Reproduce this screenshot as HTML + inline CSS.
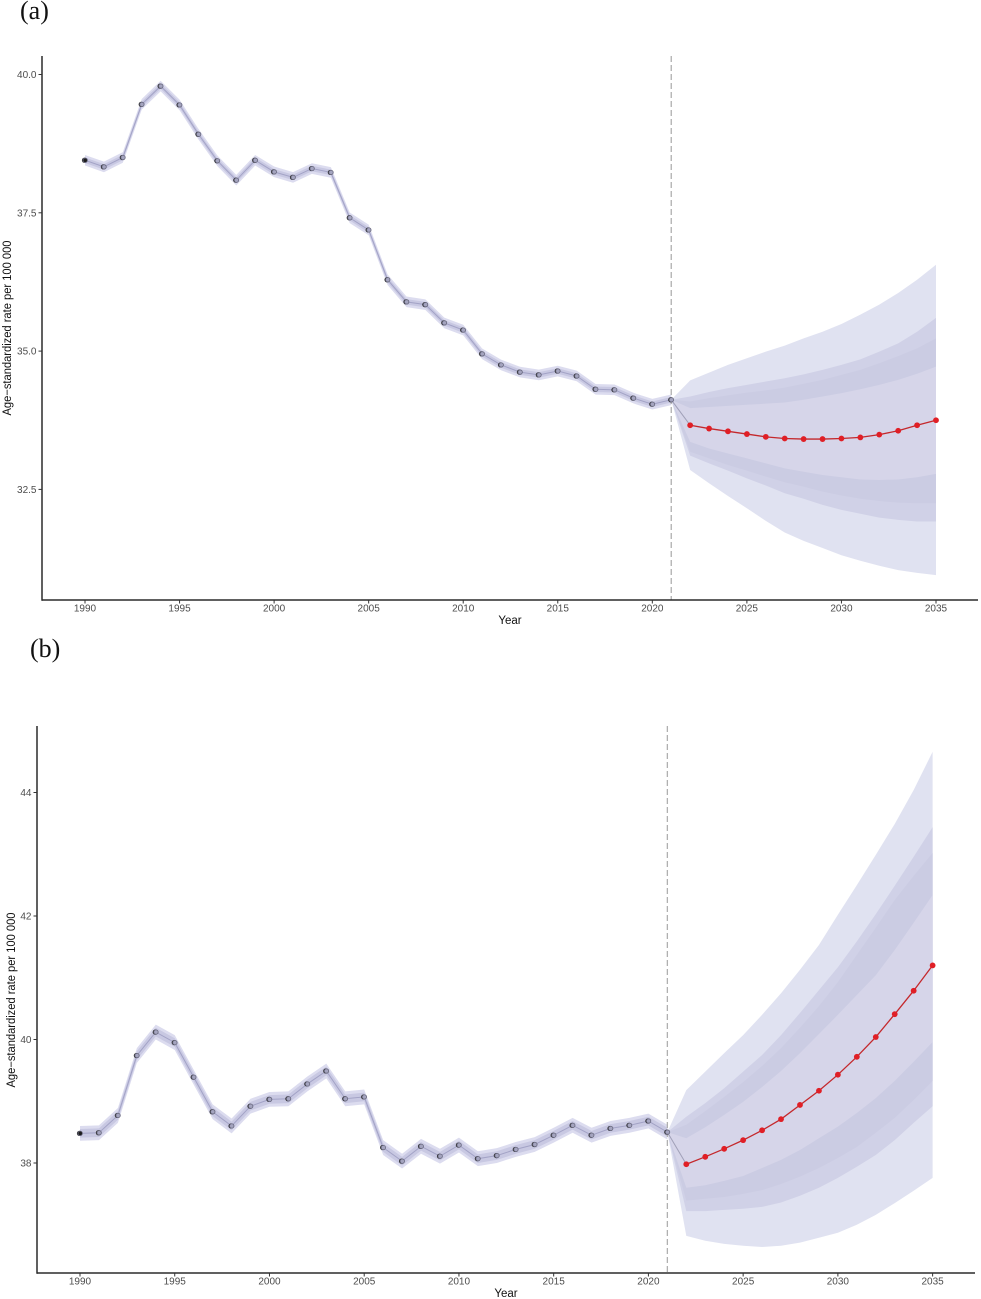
<!DOCTYPE html>
<html lang="en">
<head>
<meta charset="utf-8">
<title>Age-standardized rate forecast panels</title>
<style>
html,body{margin:0;padding:0;background:#fff;}
#chart{display:block;width:981px;height:1299px;}
text{font-family:"Liberation Sans",sans-serif;}
</style>
</head>
<body>
<svg id="chart" xmlns="http://www.w3.org/2000/svg" width="981" height="1299" viewBox="0 0 981 1299"></svg>
<script>
const histYears = [1990,1991,1992,1993,1994,1995,1996,1997,1998,1999,2000,2001,2002,2003,2004,2005,2006,2007,2008,2009,2010,2011,2012,2013,2014,2015,2016,2017,2018,2019,2020,2021];
const forecastYears = [2022,2023,2024,2025,2026,2027,2028,2029,2030,2031,2032,2033,2034,2035];
const xTickYears = [1990,1995,2000,2005,2010,2015,2020,2025,2030,2035];

const aYTicks = [40.0,37.5,35.0,32.5];
const aYTickLabels = ["40.0","37.5","35.0","32.5"];
const aHist = [38.45,38.33,38.50,39.46,39.79,39.45,38.92,38.44,38.09,38.45,38.24,38.14,38.30,38.23,37.41,37.19,36.29,35.89,35.84,35.51,35.38,34.95,34.75,34.62,34.57,34.64,34.55,34.31,34.30,34.15,34.04,34.12];
const aForecast = [33.66,33.60,33.55,33.50,33.45,33.42,33.41,33.41,33.42,33.44,33.49,33.56,33.66,33.75];
const aOuterUpper = [34.47,34.61,34.75,34.87,34.99,35.10,35.23,35.35,35.49,35.66,35.84,36.05,36.29,36.56];
const aEdgeAUpper = [34.18,34.26,34.33,34.39,34.45,34.51,34.58,34.66,34.75,34.85,34.99,35.14,35.35,35.60];
const aEdgeBUpper = [34.09,34.15,34.20,34.25,34.29,34.34,34.41,34.48,34.57,34.66,34.78,34.91,35.05,35.23];
const aEdgeCUpper = [33.97,33.99,34.01,34.03,34.05,34.07,34.12,34.18,34.24,34.31,34.39,34.48,34.59,34.72];
const aEdgeCLower = [33.36,33.24,33.15,33.06,32.97,32.88,32.82,32.76,32.72,32.68,32.67,32.68,32.72,32.78];
const aEdgeBLower = [33.18,33.06,32.94,32.84,32.73,32.63,32.55,32.46,32.39,32.33,32.29,32.26,32.25,32.25];
const aEdgeALower = [33.11,32.97,32.84,32.70,32.57,32.43,32.33,32.22,32.13,32.06,31.99,31.95,31.92,31.92];
const aOuterLower = [32.85,32.61,32.38,32.16,31.93,31.72,31.57,31.44,31.31,31.21,31.12,31.04,30.99,30.95];

const bYTicks = [44,42,40,38];
const bYTickLabels = ["44","42","40","38"];
const bHist = [38.48,38.49,38.77,39.74,40.12,39.95,39.39,38.83,38.60,38.92,39.03,39.04,39.28,39.49,39.04,39.07,38.25,38.03,38.27,38.11,38.29,38.07,38.12,38.22,38.30,38.45,38.61,38.45,38.56,38.61,38.68,38.50];
const bForecast = [37.98,38.10,38.23,38.37,38.53,38.71,38.94,39.17,39.43,39.72,40.04,40.41,40.79,41.20];
const bOuterUpper = [39.18,39.48,39.78,40.07,40.40,40.75,41.13,41.53,42.02,42.50,42.99,43.49,44.04,44.66];
const bEdgeAUpper = [38.75,38.97,39.21,39.48,39.75,40.07,40.43,40.80,41.17,41.59,42.03,42.49,42.96,43.44];
const bEdgeBUpper = [38.62,38.84,39.07,39.31,39.57,39.86,40.19,40.54,40.93,41.37,41.81,42.26,42.65,43.02];
const bEdgeCUpper = [38.40,38.58,38.78,38.99,39.23,39.49,39.78,40.09,40.40,40.72,41.04,41.45,41.89,42.34];
const bEdgeCLower = [37.60,37.64,37.71,37.79,37.92,38.05,38.21,38.40,38.59,38.81,39.05,39.33,39.64,39.96];
const bEdgeBLower = [37.39,37.42,37.45,37.50,37.56,37.66,37.78,37.92,38.08,38.26,38.49,38.73,39.02,39.33];
const bEdgeALower = [37.22,37.22,37.24,37.26,37.29,37.36,37.47,37.60,37.76,37.94,38.13,38.37,38.65,38.92];
const bOuterLower = [36.82,36.74,36.69,36.66,36.64,36.66,36.71,36.79,36.87,37.00,37.16,37.35,37.55,37.76];

const aHistBandOuter = 0.096;
const aHistBandInner = 0.05;
const bHistBandOuter = 0.12;
const bHistBandInner = 0.07;

const SVGNS = "http://www.w3.org/2000/svg";
const svg = document.getElementById("chart");

function make(tag, attrs, parent) {
  const el = document.createElementNS(SVGNS, tag);
  for (const k in attrs) el.setAttribute(k, attrs[k]);
  parent.appendChild(el);
  return el;
}
function pts(list) {
  return list.map(function (p) { return p[0].toFixed(2) + "," + p[1].toFixed(2); }).join(" ");
}

function drawPanel(cfg) {
  const x = cfg.x, y = cfg.y;
  const g = make("g", {}, svg);
  
  

  // forecast bands, outermost first
  cfg.bands.forEach(function (b, i) {
    const origin = [x(2021), y(cfg.hist[cfg.hist.length - 1])];
    const up = b.upper.map(function (v, j) { return [x(forecastYears[j]), y(v)]; });
    const lo = b.lower.map(function (v, j) { return [x(forecastYears[j]), y(v)]; }).reverse();
    const poly = make("polygon", { points: pts([origin].concat(up, lo)), fill: b.fill }, g);
    
    
  });

  // historical ribbons
  [[cfg.histOuter, "#dcdcef"], [cfg.histInner, "#c8c8e2"]].forEach(function (r) {
    const up = cfg.hist.map(function (v, j) { return [x(histYears[j]), y(v + r[0])]; });
    const lo = cfg.hist.map(function (v, j) { return [x(histYears[j]), y(v - r[0])]; }).reverse();
    const poly = make("polygon", { points: pts(up.concat(lo)), fill: r[1] }, g);
    
    
  });

  // historical line plus connector to first forecast point
  const histPts = cfg.hist.map(function (v, j) { return [x(histYears[j]), y(v)]; });
  const histLine = make("polyline", { points: pts(histPts), fill: "none", stroke: "#a3a3c6", "stroke-width": 1 }, g);
  
  

  const connector = make("line", {
    x1: x(2021), y1: y(cfg.hist[cfg.hist.length - 1]),
    x2: x(forecastYears[0]), y2: y(cfg.forecast[0]),
    stroke: "#a0a0b8", "stroke-width": 1
  }, g);
  
  

  // reference line
  const ref = make("line", {
    x1: x(2021), y1: cfg.top, x2: x(2021), y2: cfg.bottom,
    stroke: "#b0b0b0", "stroke-width": 1.3, "stroke-dasharray": "6 3"
  }, g);
  
  

  // historical points
  cfg.hist.forEach(function (v, j) {
    const base = make("circle", { cx: x(histYears[j]) - 0.5, cy: y(v), r: 2.6, fill: "#2a2a2a" }, g);
    
    
    const dot = make("circle", {
      cx: x(histYears[j]) + 0.2, cy: y(v), r: 2.2,
      fill: j === 0 ? "#1c1c1c" : "#a4a4bf", stroke: "#66667c", "stroke-width": 0.8
    }, g);
    
    
  });

  // forecast line and points
  const redLine = make("polyline", {
    points: pts(cfg.forecast.map(function (v, j) { return [x(forecastYears[j]), y(v)]; })),
    fill: "none", stroke: "#c4282c", "stroke-width": 1.3
  }, g);
  
  
  cfg.forecast.forEach(function (v, j) {
    const dot = make("circle", { cx: x(forecastYears[j]), cy: y(v), r: 2.9, fill: "#e01f26" }, g);
    
    
  });

  // axes
  const yAxis = make("line", { x1: cfg.left, y1: cfg.top, x2: cfg.left, y2: cfg.bottom + 0.7, stroke: "#2b2b2b", "stroke-width": 1.5 }, g);
  
  
  const xAxis = make("line", { x1: cfg.left, y1: cfg.bottom, x2: cfg.right, y2: cfg.bottom, stroke: "#2b2b2b", "stroke-width": 1.5 }, g);
  
  

  xTickYears.forEach(function (yr) {
    const t = make("line", { x1: x(yr), y1: cfg.bottom, x2: x(yr), y2: cfg.bottom + 3.5, stroke: "#333", "stroke-width": 1 }, g);
    
    
    const lab = make("text", { x: x(yr), y: cfg.bottom + 11.5, "font-size": 10, fill: "#4d4d4d", "text-anchor": "middle" }, g);
    lab.textContent = String(yr);
    
    
  });
  cfg.yTicks.forEach(function (v, j) {
    const t = make("line", { x1: cfg.left - 3.5, y1: y(v), x2: cfg.left, y2: y(v), stroke: "#333", "stroke-width": 1 }, g);
    
    
    const lab = make("text", { x: cfg.left - 5.5, y: y(v) + 3.5, "font-size": 10, fill: "#4d4d4d", "text-anchor": "end" }, g);
    lab.textContent = cfg.yTickLabels[j];
    
    
  });

  const xTitle = make("text", { x: cfg.xTitleX, y: cfg.xTitleY, "font-size": 11.5, fill: "#111", "text-anchor": "middle" }, g);
  xTitle.textContent = "Year";
  
  

  const yTitle = make("text", {
    x: 0, y: 0, "font-size": 11.5, fill: "#111", "text-anchor": "middle",
    textLength: 175, lengthAdjust: "spacingAndGlyphs",
    transform: "translate(" + cfg.yTitleX + "," + cfg.yTitleY + ") rotate(-90)"
  }, g);
  yTitle.textContent = "Age\u2212standardized rate per 100 000";
  
  

  const tag = make("text", { x: cfg.tagX, y: cfg.tagY, "font-size": 26, fill: "#111" }, g);
  tag.style.fontFamily = '"Liberation Serif",serif';
  tag.textContent = cfg.tag;
  
  
}

function xScaleA(year) { return 85 + (year - 1990) * 18.911; }
function yScaleA(v) { return 74.5 + (40 - v) * 55.32; }
function xScaleB(year) { return 80 + (year - 1990) * 18.947; }
function yScaleB(v) { return 1163 - (v - 38) * 61.75; }

drawPanel({
  id: "panel-a", tag: "(a)", tagX: 20, tagY: 19,
  x: xScaleA, y: yScaleA,
  left: 42, right: 978, top: 56, bottom: 600,
  xTitleX: 510, xTitleY: 624, yTitleX: 11, yTitleY: 328,
  yTicks: aYTicks, yTickLabels: aYTickLabels,
  hist: aHist, forecast: aForecast,
  histOuter: aHistBandOuter, histInner: aHistBandInner,
  bands: [
    { upper: aOuterUpper, lower: aOuterLower, fill: "#e0e2f1" },
    { upper: aEdgeAUpper, lower: aEdgeALower, fill: "#d0d1e7" },
    { upper: aEdgeBUpper, lower: aEdgeBLower, fill: "#cbcce3" },
    { upper: aEdgeCUpper, lower: aEdgeCLower, fill: "#d6d5e9" }
  ]
});

drawPanel({
  id: "panel-b", tag: "(b)", tagX: 30, tagY: 657,
  x: xScaleB, y: yScaleB,
  left: 37, right: 975, top: 726, bottom: 1273,
  xTitleX: 506, xTitleY: 1297, yTitleX: 15, yTitleY: 1000,
  yTicks: bYTicks, yTickLabels: bYTickLabels,
  hist: bHist, forecast: bForecast,
  histOuter: bHistBandOuter, histInner: bHistBandInner,
  bands: [
    { upper: bOuterUpper, lower: bOuterLower, fill: "#e0e2f1" },
    { upper: bEdgeAUpper, lower: bEdgeALower, fill: "#d0d1e7" },
    { upper: bEdgeBUpper, lower: bEdgeBLower, fill: "#cbcce3" },
    { upper: bEdgeCUpper, lower: bEdgeCLower, fill: "#d6d5e9" }
  ]
});
</script>
</body>
</html>
